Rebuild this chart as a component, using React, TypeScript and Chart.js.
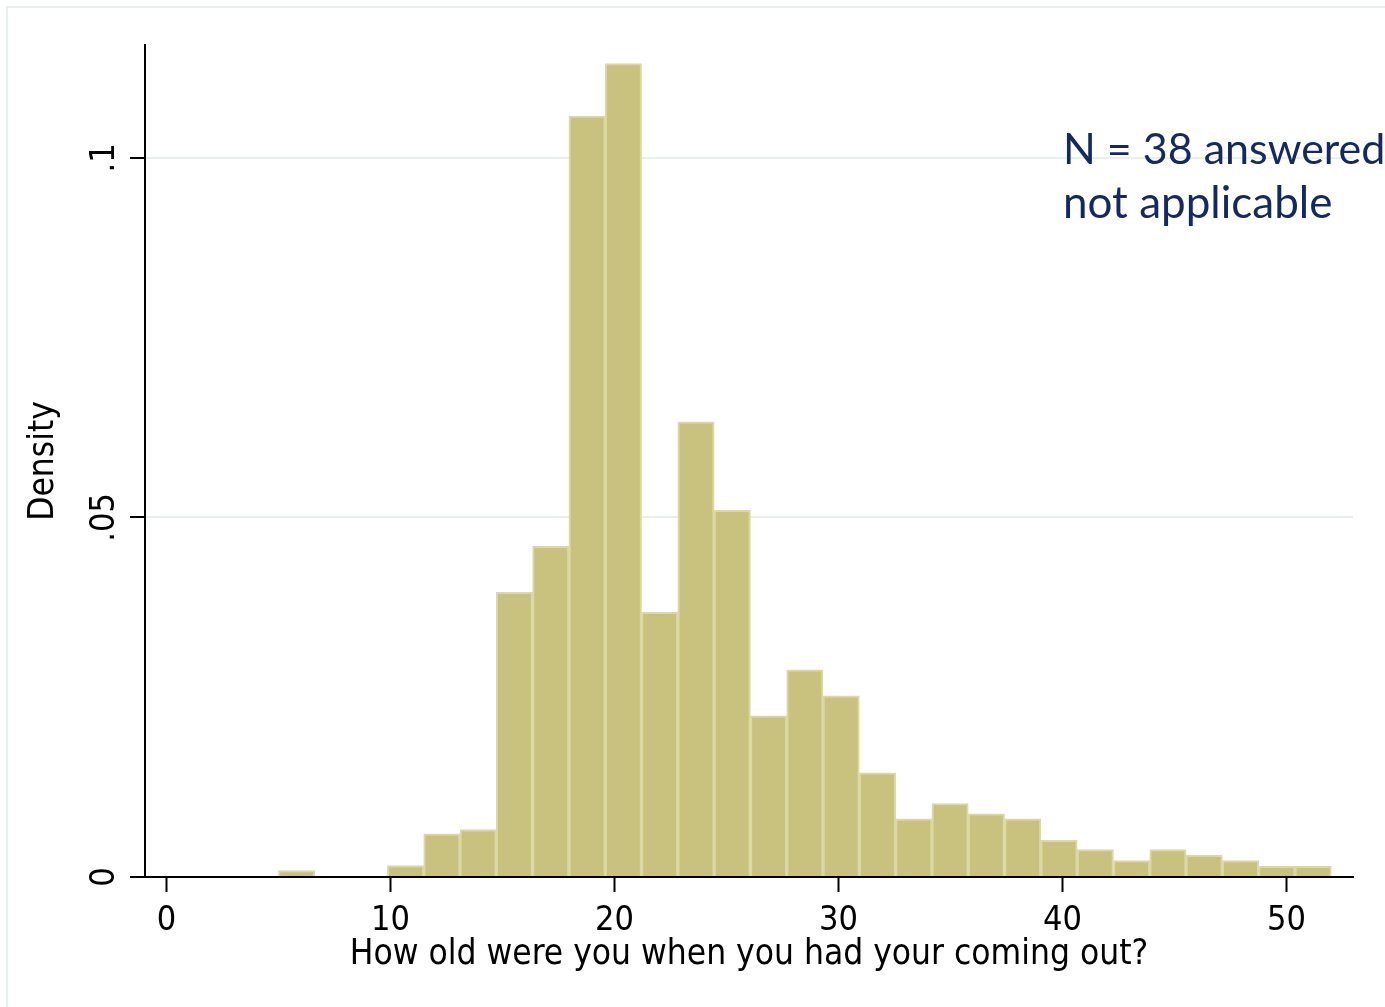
import React, { useEffect, useRef } from "react";
import { Chart, registerables } from "chart.js";

Chart.register(...registerables);

// Histogram bins (centres, in years) and their densities
const binCenters = [
  5.8103, 7.431, 9.0517, 10.6724, 12.2931, 13.9138, 15.5345, 17.1552, 18.7759, 20.3966,
  22.0172, 23.6379, 25.2586, 26.8793, 28.5, 30.1207, 31.7414, 33.3621, 34.9828, 36.6034,
  38.2241, 39.8448, 41.4655, 43.0862, 44.7069, 46.3276, 47.9483, 49.569, 51.1897,
];
const density = [
  0.0009, 0, 0, 0.0016, 0.006, 0.0066, 0.0396, 0.046, 0.1058, 0.1131,
  0.0368, 0.0633, 0.051, 0.0224, 0.0288, 0.0252, 0.0145, 0.0081, 0.0102, 0.0088,
  0.0081, 0.0051, 0.0038, 0.0023, 0.0038, 0.003, 0.0023, 0.0015, 0.0015,
];
const xTickValues = [0, 10, 20, 30, 40, 50];
const yTickValues = [0, 0.05, 0.1];
const yTickLabels = ["0", ".05", ".1"];
const xTitle = "How old were you when you had your coming out?";
const yTitle = "Density";
const noteLines = ["N = 38 answered", "not applicable"];

const W = 1385;
const H = 1007;
const LABEL_FONT = '"DejaVu Sans Condensed", "DejaVu Sans", sans-serif';

const decor = {
  id: "decor",
  beforeDraw(chart: any) {
    const ctx = chart.ctx;
    ctx.save();
    ctx.fillStyle = "#ffffff";
    ctx.fillRect(0, 0, W, H);
    ctx.strokeStyle = "#e8eeee";
    ctx.lineWidth = 2;
    ctx.beginPath();
    ctx.moveTo(7, H);
    ctx.lineTo(7, 7);
    ctx.lineTo(W, 7);
    ctx.stroke();
    ctx.restore();
  },
  afterDraw(chart: any) {
    const { ctx, chartArea } = chart;
    const y = chart.scales.y;
    ctx.save();
    ctx.fillStyle = "#000000";
    ctx.textAlign = "center";
    ctx.textBaseline = "alphabetic";
    ctx.font = `34px ${LABEL_FONT}`;
    yTickValues.forEach((v, i) => {
      const py = y.getPixelForValue(v);
      ctx.save();
      ctx.translate(114, py);
      ctx.rotate(-Math.PI / 2);
      ctx.fillText(yTickLabels[i], 0, 0);
      ctx.restore();
    });
    ctx.font = `35px ${LABEL_FONT}`;
    ctx.save();
    ctx.translate(53, (chartArea.top + chartArea.bottom) / 2);
    ctx.rotate(-Math.PI / 2);
    ctx.fillText(yTitle, 0, 0);
    ctx.restore();
    ctx.fillText(xTitle, (chartArea.left + chartArea.right) / 2, 964);

    ctx.fillStyle = "#13295f";
    ctx.textAlign = "left";
    ctx.font = "43px Lato";
    ctx.fillText(noteLines[0], 1063, 164);
    ctx.font = "44px Lato";
    ctx.fillText(noteLines[1], 1063, 218);
    ctx.restore();
  },
};

export default function App() {
  const canvasRef = useRef<HTMLCanvasElement | null>(null);

  useEffect(() => {
    const canvas = canvasRef.current;
    if (!canvas) return;
    const chart = new Chart(canvas, {
      type: "bar",
      data: {
        datasets: [
          {
            data: binCenters.map((c, i) => ({ x: c, y: density[i] })),
            backgroundColor: "#c9c27e",
            borderColor: "#dcd8a4",
            borderWidth: 2,
            barPercentage: 1,
            categoryPercentage: 1,
          } as any,
        ],
      },
      options: {
        responsive: false,
        maintainAspectRatio: false,
        animation: false,
        devicePixelRatio: 1,
        layout: { padding: { left: 0, top: 45, right: 32, bottom: 0 } },
        plugins: { legend: { display: false }, tooltip: { enabled: false } },
        scales: {
          x: {
            type: "linear",
            min: -0.96,
            max: 52.97,
            offset: false,
            z: 1,
            afterBuildTicks: (s: any) => {
              s.ticks = xTickValues.map((v) => ({ value: v }));
            },
            afterFit: (s: any) => {
              s.height = 130;
            },
            grid: {
              offset: false,
              drawOnChartArea: false,
              drawTicks: true,
              tickLength: 15,
              tickColor: "#000000",
              tickWidth: 2,
            },
            border: { display: true, color: "#000000", width: 2 },
            ticks: {
              font: { family: LABEL_FONT, size: 34 },
              color: "#000000",
              padding: 9,
              maxRotation: 0,
              minRotation: 0,
              autoSkip: false,
              callback: (v: any) => String(v),
            },
          },
          y: {
            type: "linear",
            min: 0,
            max: 0.1157,
            afterBuildTicks: (s: any) => {
              s.ticks = yTickValues.map((v) => ({ value: v }));
            },
            afterFit: (s: any) => {
              s.width = 145;
            },
            grid: {
              color: (c: any) => (c.tick && c.tick.value === 0 ? "rgba(0,0,0,0)" : "#e8efef"),
              lineWidth: 2,
              drawTicks: true,
              tickLength: 15,
              tickColor: "#000000",
              tickWidth: 2,
            },
            border: { display: true, color: "#000000", width: 2 },
            ticks: { display: false },
          },
        },
      } as any,
      plugins: [decor],
    });
    return () => chart.destroy();
  }, []);

  return (
    <div style={{ position: "absolute", left: 0, top: 0, width: W, height: H }}>
      <canvas ref={canvasRef} width={W} height={H} style={{ display: "block", width: W, height: H }} />
    </div>
  );
}
